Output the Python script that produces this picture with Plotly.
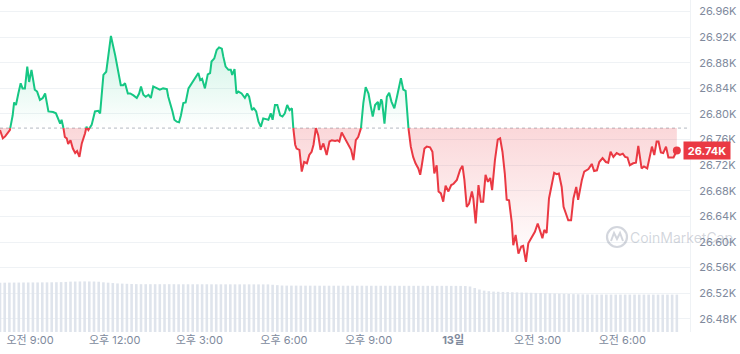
import plotly.graph_objects as go
from datetime import datetime, timedelta

# ---------------- data ----------------
start_time = datetime(2023, 9, 12, 7, 56)

minutes = [0, 6, 11, 18, 21, 27, 30, 34, 39, 44, 48, 53, 58, 62, 67, 71, 74, 79, 85, 91,
           96, 103, 113, 119, 124, 128, 131, 135, 138, 142, 145, 150, 155, 160, 164, 169, 174, 181, 184, 188,
           195, 202, 209, 213, 220, 226, 236, 245, 252, 257, 262, 266, 272, 277, 284, 291, 296, 300, 305, 310,
           316, 321, 326, 333, 340, 347, 355, 358, 364, 367, 371, 376, 381, 385, 390, 395, 401, 406, 411, 416,
           422, 426, 430, 436, 442, 447, 450, 456, 461, 466, 472, 475, 480, 486, 491, 494, 499, 503, 507, 514,
           521, 526, 530, 536, 540, 545, 550, 555, 560, 566, 571, 576, 580, 585, 590, 596, 601, 606, 611, 616,
           621, 624, 628, 631, 637, 642, 647, 653, 658, 663, 667, 672, 677, 682, 688, 695, 701, 706, 713, 718,
           722, 727, 732, 738, 747, 752, 757, 762, 768, 773, 778, 784, 789, 793, 798, 804, 806, 811, 813, 818,
           823, 828, 833, 839, 844, 849, 853, 858, 863, 869, 874, 879, 884, 890, 894, 897, 903, 908, 915, 920,
           924, 929, 933, 938, 943, 948, 954, 960, 965, 972, 979, 984, 988, 993, 998, 1004, 1007, 1012, 1018, 1023,
           1028, 1033, 1038, 1043, 1047, 1053, 1059, 1064, 1069, 1074, 1078, 1083, 1089, 1092, 1097, 1103, 1109, 1113, 1119, 1124,
           1131, 1138, 1144, 1149, 1154, 1158, 1163, 1168, 1174, 1179, 1184, 1189, 1195, 1199, 1209, 1215, 1220, 1226, 1230, 1238,
           1243, 1252, 1259, 1264, 1270, 1275, 1282, 1289, 1294, 1299, 1305, 1312, 1319, 1325, 1330, 1335, 1340, 1347, 1353, 1358,
           1365, 1370, 1377, 1383, 1387, 1392, 1397, 1401, 1406, 1411, 1417, 1422, 1433, 1440]

prices = [26775, 26762, 26765, 26771, 26775, 26798, 26818, 26814, 26832, 26848, 26840, 26840, 26874, 26850, 26869, 26853, 26838, 26835, 26822, 26825,
          26832, 26804, 26803, 26801, 26793, 26785, 26791, 26778, 26764, 26762, 26753, 26759, 26746, 26739, 26742, 26733, 26754, 26770, 26780, 26775,
          26783, 26804, 26805, 26801, 26861, 26866, 26922, 26892, 26866, 26845, 26845, 26848, 26832, 26832, 26829, 26825, 26832, 26843, 26830, 26827,
          26830, 26825, 26843, 26841, 26838, 26840, 26839, 26827, 26814, 26804, 26791, 26788, 26787, 26798, 26817, 26818, 26840, 26846, 26850, 26858,
          26864, 26853, 26855, 26840, 26862, 26864, 26882, 26887, 26900, 26904, 26902, 26890, 26874, 26869, 26869, 26861, 26870, 26832, 26835, 26832,
          26825, 26832, 26827, 26806, 26809, 26804, 26788, 26780, 26793, 26792, 26791, 26801, 26791, 26814, 26814, 26798, 26796, 26801, 26814, 26806,
          26809, 26778, 26752, 26746, 26744, 26710, 26725, 26723, 26736, 26741, 26752, 26778, 26767, 26744, 26754, 26736, 26757, 26759, 26758, 26759,
          26757, 26771, 26764, 26757, 26744, 26728, 26759, 26764, 26778, 26817, 26842, 26832, 26811, 26796, 26814, 26819, 26806, 26823, 26819, 26785,
          26827, 26833, 26819, 26809, 26825, 26843, 26856, 26838, 26836, 26778, 26749, 26733, 26723, 26715, 26705, 26718, 26746, 26749, 26748, 26741,
          26707, 26720, 26679, 26676, 26663, 26688, 26679, 26689, 26691, 26697, 26713, 26719, 26697, 26655, 26660, 26679, 26668, 26629, 26689, 26663,
          26663, 26705, 26694, 26700, 26681, 26728, 26760, 26762, 26741, 26707, 26666, 26665, 26629, 26595, 26611, 26582, 26593, 26594, 26569, 26598,
          26608, 26616, 26629, 26616, 26606, 26619, 26614, 26668, 26689, 26708, 26706, 26707, 26686, 26655, 26634, 26634, 26668, 26686, 26666, 26697,
          26710, 26714, 26722, 26711, 26712, 26725, 26731, 26725, 26724, 26741, 26733, 26739, 26736, 26738, 26733, 26732, 26720, 26723, 26724, 26750,
          26715, 26718, 26715, 26739, 26749, 26736, 26757, 26757, 26740, 26739, 26749, 26732, 26732, 26743]

base_price = 26778  # opening price (dotted reference line)

volume_step_minutes = 10
volumes_b = [13.0, 13.0, 13.02, 13.03, 13.03, 13.05, 13.05, 13.06, 13.06, 13.08, 13.08, 13.1, 13.12, 13.15, 13.2,
             13.28, 13.3, 13.32, 13.33, 13.32, 13.3, 13.25,
             13.1, 13.0, 12.9, 12.8, 12.75, 12.7, 12.65, 12.62,
             12.6, 12.6, 12.6, 12.6, 12.6, 12.6, 12.6, 12.6, 12.58, 12.58, 12.58, 12.58, 12.58, 12.58,
             12.58, 12.57, 12.57, 12.57, 12.57, 12.57, 12.56, 12.56, 12.56, 12.56, 12.56, 12.55, 12.55, 12.55,
             12.45, 12.35, 12.25,
             12.22, 12.22, 12.22, 12.21, 12.21, 12.21, 12.21, 12.2, 12.2, 12.2, 12.2, 12.2, 12.2,
             12.2, 12.2, 12.2, 12.2, 12.19, 12.19, 12.19, 12.19, 12.19, 12.19, 12.19, 12.18, 12.18,
             12.18, 12.18, 12.18, 12.18, 12.18, 12.17, 12.17, 12.17, 12.17, 12.16, 12.16, 12.15, 12.12,
             12.0, 11.6, 11.2, 10.9, 10.75,
             10.65, 10.6, 10.56, 10.52, 10.48, 10.44, 10.4, 10.37, 10.34, 10.3,
             10.26, 10.22, 10.18, 10.14, 10.1, 10.06, 10.02, 9.98, 9.95, 9.92, 9.9, 9.88,
             9.87, 9.87, 9.87, 9.86, 9.86, 9.86, 9.86, 9.86, 9.86, 9.86, 9.86, 9.86, 9.85, 9.85, 9.85, 9.85, 9.85, 9.85]

y_tick_values = [26480, 26520, 26560, 26600, 26640, 26680, 26720, 26760, 26800, 26840, 26880, 26920, 26960]
y_tick_labels = ["26.48K", "26.52K", "26.56K", "26.60K", "26.64K", "26.68K", "26.72K", "26.76K",
                 "26.80K", "26.84K", "26.88K", "26.92K", "26.96K"]
x_tick_times = ["2023-09-12 09:00", "2023-09-12 12:00", "2023-09-12 15:00", "2023-09-12 18:00",
                "2023-09-12 21:00", "2023-09-13 00:00", "2023-09-13 03:00", "2023-09-13 06:00"]
x_tick_labels = ["오전 9:00", "오후 12:00", "오후 3:00", "오후 6:00", "오후 9:00", "<b>13일</b>", "오전 3:00", "오전 6:00"]
last_label = "26.74K"

# ---------------- build ----------------
GREEN = "#16c784"
RED = "#ea3943"
FONT = "Inter, 'Noto Sans CJK KR', sans-serif"

# insert baseline crossing points so the colour split is exact
aug_m, aug_v = [], []
for i, (m, v) in enumerate(zip(minutes, prices)):
    if i > 0:
        m0, v0 = minutes[i - 1], prices[i - 1]
        if (v0 - base_price) * (v - base_price) < 0:
            mc = m0 + (base_price - v0) / (v - v0) * (m - m0)
            aug_m.append(mc)
            aug_v.append(base_price)
    aug_m.append(m)
    aug_v.append(v)

aug_t = [start_time + timedelta(minutes=m) for m in aug_m]
up_fill = [max(v, base_price) for v in aug_v]
dn_fill = [min(v, base_price) for v in aug_v]
up_line = [v if v >= base_price else None for v in aug_v]
dn_line = [v if v <= base_price else None for v in aug_v]
base_line = [base_price] * len(aug_v)

vol_t = [start_time + timedelta(minutes=volume_step_minutes * i) for i in range(len(volumes_b))]

fig = go.Figure()

fig.add_trace(go.Bar(x=vol_t, y=volumes_b, yaxis="y2", marker=dict(color="#dfe4ec", line=dict(width=0)),
                     hoverinfo="skip", showlegend=False))

fig.add_trace(go.Scatter(x=aug_t, y=base_line, mode="lines", line=dict(width=0), hoverinfo="skip", showlegend=False))
fig.add_trace(go.Scatter(x=aug_t, y=up_fill, mode="lines", line=dict(width=0), fill="tonexty",
                         fillgradient=dict(type="vertical", start=base_price, stop=max(prices),
                                           colorscale=[[0, "rgba(22,199,132,0.0)"], [1, "rgba(22,199,132,0.22)"]]),
                         hoverinfo="skip", showlegend=False))
fig.add_trace(go.Scatter(x=aug_t, y=base_line, mode="lines", line=dict(width=0), hoverinfo="skip", showlegend=False))
fig.add_trace(go.Scatter(x=aug_t, y=dn_fill, mode="lines", line=dict(width=0), fill="tonexty",
                         fillgradient=dict(type="vertical", start=min(prices), stop=base_price,
                                           colorscale=[[0, "rgba(234,57,67,0.0)"], [1, "rgba(234,57,67,0.2)"]]),
                         hoverinfo="skip", showlegend=False))

fig.add_trace(go.Scatter(x=aug_t, y=up_line, mode="lines", line=dict(color=GREEN, width=2),
                         connectgaps=False, hoverinfo="skip", showlegend=False))
fig.add_trace(go.Scatter(x=aug_t, y=dn_line, mode="lines", line=dict(color=RED, width=2),
                         connectgaps=False, hoverinfo="skip", showlegend=False))
fig.add_trace(go.Scatter(x=[aug_t[-1]], y=[aug_v[-1]], mode="markers", marker=dict(color=RED, size=8),
                         hoverinfo="skip", showlegend=False))

# dotted opening-price line
fig.add_shape(type="line", xref="paper", x0=0, x1=1, yref="y", y0=base_price, y1=base_price,
              line=dict(color="#b4b9c2", width=1, dash="dot"), layer="below")

# watermark
fig.add_shape(type="circle", xref="paper", yref="paper", x0=0.8797, x1=0.9087, y0=0.256, y1=0.3163,
              line=dict(color="rgba(128,138,157,0.35)", width=2.2))
fig.add_shape(type="path", xref="paper", yref="paper",
              path="M 0.8855 0.2741 L 0.8899 0.2982 L 0.8942 0.2801 L 0.8986 0.2982 L 0.9029 0.2741",
              line=dict(color="rgba(128,138,157,0.35)", width=2))
fig.add_annotation(text="CoinMarketCap", xref="paper", yref="paper", x=0.916, y=0.286, xshift=-4,
                   xanchor="left", yanchor="middle", showarrow=False,
                   font=dict(family=FONT, size=14, color="rgba(128,138,157,0.35)"))

# last price tag
fig.add_annotation(text="<b>" + last_label + "</b>", xref="paper", x=1, xanchor="left", xshift=-7,
                   yref="y", y=prices[-1], yanchor="middle", showarrow=False,
                   width=44, height=15, align="center",
                   bgcolor=RED, borderpad=1, font=dict(family=FONT, size=11, color="white"))

end_time = start_time + timedelta(minutes=1468)

fig.update_layout(
    width=740, height=354,
    margin=dict(l=0, r=50, t=0, b=22),
    paper_bgcolor="white", plot_bgcolor="white",
    hovermode=False, showlegend=False, bargap=0.45,
    font=dict(family=FONT, color="#808a9d", size=11),
    xaxis=dict(type="date", range=[start_time, end_time], tickvals=x_tick_times, ticktext=x_tick_labels,
               showgrid=False, zeroline=False, showline=False, ticks="",
               tickfont=dict(family=FONT, size=11, color="#808a9d")),
    yaxis=dict(range=[26459.4, 26978.1], side="right", tickvals=y_tick_values, ticktext=y_tick_labels,
               showgrid=True, gridcolor="#eff2f5", gridwidth=1, zeroline=False,
               showline=True, linecolor="#eff2f5", linewidth=1, ticks="", ticklabelstandoff=6,
               tickfont=dict(family=FONT, size=11, color="#808a9d")),
    yaxis2=dict(range=[0, 87.5], overlaying="y", visible=False, fixedrange=True),
)

fig.write_html("out.html")
